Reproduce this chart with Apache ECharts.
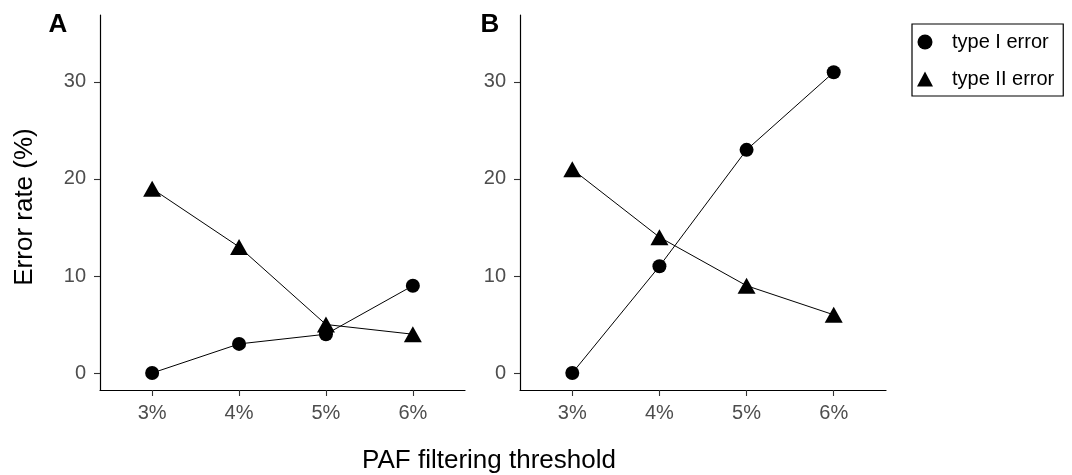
<!DOCTYPE html>
<html>
<head>
<meta charset="utf-8">
<script src="https://cdn.jsdelivr.net/npm/echarts@6/dist/echarts.min.js"></script>
<style>
  html, body { margin: 0; padding: 0; background: #fff; }
  #chart { width: 1072px; height: 475px; }
</style>
</head>
<body>
<div id="chart"></div>
<script>
// Thresholds on the x axis
const categories = ['3%', '4%', '5%', '6%'];
// Y tick marks
const yTicks = [0, 10, 20, 30];
// Panel A error rates (%)
const panelATypeI = [0, 3, 4, 9];
const panelATypeII = [19, 13, 5, 4];
// Panel B error rates (%)
const panelBTypeI = [0, 11, 23, 31];
const panelBTypeII = [21, 14, 9, 6];

const seriesNames = ['type I error', 'type II error'];
const FONT = 'Liberation Sans, Arial, sans-serif';
const xIndex = categories.map((c, i) => i + 1);

function pairs(values) {
  return values.map((v, i) => [xIndex[i], v]);
}

function xAxisFor(gridIndex) {
  return {
    type: 'value', gridIndex: gridIndex, min: 0.4, max: 4.6,
    axisLine: { show: true, onZero: false, lineStyle: { color: '#000', width: 1.2 } },
    axisTick: { show: true, length: 6, customValues: xIndex, lineStyle: { color: '#333', width: 1.1 } },
    axisLabel: {
      customValues: xIndex, margin: 13, color: '#4d4d4d', fontSize: 20, fontFamily: FONT,
      formatter: v => categories[Math.round(v) - 1] || ''
    },
    splitLine: { show: false }
  };
}

function yAxisFor(gridIndex) {
  return {
    type: 'value', gridIndex: gridIndex, min: -1.75, max: 36.9,
    axisLine: { show: true, onZero: false, lineStyle: { color: '#000', width: 1.2 } },
    axisTick: { show: true, length: 6, customValues: yTicks, lineStyle: { color: '#333', width: 1.1 } },
    axisLabel: { customValues: yTicks, margin: 14, color: '#4d4d4d', fontSize: 20, fontFamily: FONT },
    splitLine: { show: false }
  };
}

function lineSeries(name, values, idx, symbol, size) {
  return {
    name: name, type: 'line', xAxisIndex: idx, yAxisIndex: idx,
    data: pairs(values), symbol: symbol, symbolSize: size,
    lineStyle: { color: '#000', width: 1 },
    itemStyle: { color: '#000' },
    emphasis: { disabled: true },
    animation: false
  };
}

const chart = echarts.init(document.getElementById('chart'), null, { renderer: 'canvas' });
chart.setOption({
  backgroundColor: '#fff',
  animation: false,
  grid: [
    { left: 100, right: 607, top: 15, bottom: 85 },
    { left: 520, right: 186, top: 15, bottom: 85 }
  ],
  xAxis: [xAxisFor(0), xAxisFor(1)],
  yAxis: [yAxisFor(0), yAxisFor(1)],
  legend: {
    orient: 'vertical', left: 912, top: 24,
    padding: [8, 9, 7, 5], itemWidth: 16, itemHeight: 15, itemGap: 17,
    borderColor: '#000', borderWidth: 1.2,
    textStyle: { fontSize: 20, color: '#000', fontFamily: FONT, lineHeight: 20, padding: [0, 0, 0, 14] },
    selectedMode: false,
    data: [
      { name: seriesNames[0], icon: 'circle' },
      { name: seriesNames[1], icon: 'triangle' }
    ]
  },
  series: [
    lineSeries(seriesNames[0], panelATypeI, 0, 'circle', 14),
    lineSeries(seriesNames[1], panelATypeII, 0, 'triangle', [18, 16]),
    lineSeries(seriesNames[0], panelBTypeI, 1, 'circle', 14),
    lineSeries(seriesNames[1], panelBTypeII, 1, 'triangle', [18, 16])
  ],
  graphic: [
    { type: 'text', x: 58, y: 25, style: { text: 'A', font: 'bold 26px ' + FONT, fill: '#000', textAlign: 'center', textVerticalAlign: 'middle' } },
    { type: 'text', x: 490, y: 25, style: { text: 'B', font: 'bold 26px ' + FONT, fill: '#000', textAlign: 'center', textVerticalAlign: 'middle' } },
    { type: 'text', x: 489, y: 461, style: { text: 'PAF filtering threshold', font: '26px ' + FONT, fill: '#000', textAlign: 'center', textVerticalAlign: 'middle' } },
    { type: 'text', x: 25, y: 207, rotation: Math.PI / 2, style: { text: 'Error rate (%)', font: '26px ' + FONT, fill: '#000', textAlign: 'center', textVerticalAlign: 'middle' } }
  ]
});
</script>
</body>
</html>
